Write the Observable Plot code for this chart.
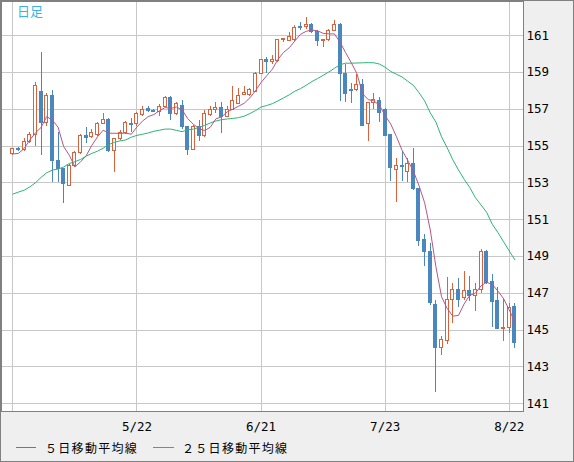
<!DOCTYPE html>
<html>
<head>
<meta charset="utf-8">
<script src="https://cdn.jsdelivr.net/npm/d3@7"></script>
<script src="https://cdn.jsdelivr.net/npm/@observablehq/plot@0.6"></script>
<style>
  html, body { margin: 0; padding: 0; background: #ffffff; }
  #wrap { position: relative; width: 574px; height: 462px; box-sizing: border-box;
          border: 1px solid #808080; background: #efefef; overflow: hidden; }
  #chart svg { display: block; }
  .lg-line { position: absolute; height: 1px; }
  .lg-text { position: absolute; font-family: "Noto Sans CJK JP", sans-serif; font-size: 12px;
             letter-spacing: 1.3px; line-height: 16px; color: #000; white-space: nowrap; }
</style>
</head>
<body>
<div id="wrap">
  <div id="chart"></div>
  <div class="lg-line" style="left:15px;top:446px;width:20px;background:#b5558a"></div>
  <div class="lg-text" style="left:44px;top:439px">５日移動平均線</div>
  <div class="lg-line" style="left:152px;top:446px;width:21px;background:#2db576"></div>
  <div class="lg-text" style="left:181px;top:439px">２５日移動平均線</div>
</div>
<script>
// ---- data (daily candles, index 0 = 4/22 ... 89 = 8/23) ----
const openV = [154.55,154.84,154.76,155.20,155.58,157.92,156.23,157.71,154.17,153.73,
  152.83,153.92,154.60,155.52,155.48,155.60,156.18,156.41,154.75,155.36,
  155.69,156.21,156.18,156.66,156.99,156.92,156.86,157.13,157.59,156.74,
  157.16,156.04,154.78,156.04,155.53,156.67,156.98,157.09,156.58,156.98,
  157.27,157.78,157.78,157.92,158.89,159.65,159.58,159.62,160.74,160.70,
  160.74,161.48,161.45,161.57,161.17,160.70,160.74,161.25,161.57,158.93,
  158.05,158.02,158.33,156.18,157.36,157.42,156.96,155.60,153.70,153.91,
  153.60,154.02,152.65,149.87,149.27,146.39,144.04,144.40,146.64,147.19,
  146.75,147.15,146.86,147.19,149.27,147.60,146.57,145.07,145.12,146.28];
const highV = [154.87,154.93,155.40,155.72,158.44,160.10,157.86,158.00,155.72,153.75,
  154.00,154.68,155.65,155.98,155.90,156.28,156.74,156.50,155.38,155.86,
  156.33,156.50,156.80,157.13,157.13,157.00,157.27,157.71,157.68,157.35,
  157.45,156.06,156.11,156.40,156.95,157.13,157.34,157.38,157.13,158.25,
  158.10,158.21,158.14,159.00,159.70,159.83,159.90,160.80,160.85,161.17,
  161.54,161.72,161.97,161.64,161.25,160.78,161.32,161.83,161.68,159.42,
  158.42,158.87,158.60,157.36,157.87,157.65,157.05,155.64,154.33,154.70,
  154.33,154.88,152.70,150.20,149.69,146.61,144.65,147.88,147.51,147.79,
  148.20,147.91,147.51,149.38,149.35,148.02,147.30,146.70,146.46,146.43];
const lowV = [154.50,154.68,154.71,155.15,154.97,154.46,156.08,153.00,153.00,151.89,
  152.80,153.85,154.55,155.14,155.40,155.52,156.15,154.64,153.55,155.30,
  155.62,155.74,156.05,156.60,156.82,156.80,156.62,157.10,156.37,156.65,
  155.90,154.50,154.74,155.22,155.46,156.60,156.76,155.68,156.53,156.94,
  157.23,157.76,157.71,157.90,158.87,158.93,159.45,159.55,160.60,160.67,
  160.70,161.28,161.32,161.10,160.41,160.34,160.70,161.21,157.42,157.35,
  157.31,157.98,156.05,155.27,156.96,156.27,155.50,153.05,151.91,153.05,
  153.00,152.60,149.54,148.46,146.34,141.63,143.62,144.22,145.38,146.25,
  146.61,146.57,146.03,147.01,147.50,145.12,145.05,144.40,144.83,144.02];
const closeV = [154.82,154.76,155.20,155.58,158.25,156.27,157.71,154.20,153.73,152.92,
  153.92,154.60,155.52,155.45,155.72,156.21,156.39,154.75,155.36,155.72,
  156.27,156.12,156.74,156.95,156.90,156.86,157.13,157.59,156.74,157.28,
  156.04,154.81,156.04,155.57,156.73,156.95,157.09,156.55,156.98,157.42,
  157.74,157.89,158.03,158.90,159.69,159.58,159.65,160.75,160.80,160.92,
  161.43,161.43,161.55,161.17,160.70,160.76,161.25,161.57,158.93,157.84,
  158.00,158.33,156.09,157.33,157.51,156.78,155.55,153.78,153.91,153.84,
  154.02,152.65,149.83,149.24,146.46,144.02,144.49,146.64,147.19,146.64,
  147.12,146.84,147.19,149.27,147.57,146.52,145.07,145.12,146.21,144.29];
const ma5V = [154.57,154.60,154.87,155.33,155.72,156.01,156.60,156.40,156.03,154.97,
  154.50,153.87,154.14,154.48,155.04,155.50,155.86,155.70,155.69,155.69,
  155.70,155.64,156.04,156.36,156.60,156.71,156.92,157.09,157.04,157.12,
  156.96,156.49,156.18,155.95,155.84,156.02,156.48,156.58,156.86,157.00,
  157.16,157.32,157.61,158.00,158.45,158.82,159.17,159.71,160.09,160.34,
  160.71,161.07,161.23,161.30,161.26,161.12,161.09,161.09,160.64,160.07,
  159.52,158.93,157.84,157.52,157.45,157.21,156.65,156.19,155.51,154.77,
  154.22,153.64,152.85,151.92,150.44,148.44,146.81,146.17,145.76,145.80,
  146.42,146.89,147.00,147.41,147.60,147.48,147.12,146.71,146.10,145.44];
const ma25V = [152.39,152.50,152.60,152.78,153.00,153.30,153.55,153.69,153.75,153.86,
  154.05,154.15,154.27,154.45,154.60,154.72,154.88,155.08,155.20,155.28,
  155.33,155.48,155.58,155.64,155.71,155.80,155.86,155.92,155.92,155.85,
  155.78,155.88,155.92,156.00,156.12,156.25,156.36,156.43,156.47,156.50,
  156.54,156.62,156.76,156.92,157.12,157.20,157.30,157.45,157.62,157.78,
  157.98,158.12,158.30,158.50,158.66,158.84,159.02,159.22,159.42,159.50,
  159.50,159.51,159.52,159.53,159.52,159.45,159.28,159.05,158.90,158.75,
  158.52,158.30,157.90,157.45,156.80,156.30,155.50,154.90,154.25,153.70,
  153.20,152.75,152.20,151.80,151.40,150.75,150.30,149.80,149.30,148.82];
const tickIdx = [22, 44, 66, 88];
const tickLabels = ["5/22", "6/21", "7/23", "8/22"];
const gridIdx = [0, 22, 44, 66, 88];
const yTicks = [141,143,145,147,149,151,153,155,157,159,161];
const titleText = "日足";

// ---- build table ----
const rows = closeV.map((c, i) => ({i, o: openV[i], h: highV[i], l: lowV[i], c}));
const up = rows.filter(d => d.c >= d.o);
const down = rows.filter(d => d.c < d.o);
const ma5 = ma5V.map((v, i) => ({i, v}));
const ma25 = ma25V.map((v, i) => ({i, v}));

const UP = "#d9623d", DOWN = "#4a87bf", GRID = "#c8c8c8";
const hw = 1.5 / 5.64; // half body width in index units

const chart = Plot.plot({
  width: 572, height: 436,
  marginLeft: 0, marginRight: 50, marginTop: 0, marginBottom: 26,
  x: {type: "linear", domain: [-2.021, 90.53]},
  y: {domain: [140.58, 162.85]},
  style: {background: "transparent", fontFamily: "DejaVu Sans Mono", fontSize: "12.5px", color: "#000", overflow: "visible"},
  marks: [
    Plot.frame({fill: "white"}),
    Plot.gridY(yTicks, {stroke: GRID, strokeOpacity: 1, shapeRendering: "crispEdges"}),
    Plot.gridX(gridIdx, {stroke: GRID, strokeOpacity: 1, shapeRendering: "crispEdges"}),
    Plot.ruleX(up, {x: "i", y1: "l", y2: "h", stroke: UP, strokeWidth: 1, shapeRendering: "crispEdges"}),
    Plot.ruleX(down, {x: "i", y1: "l", y2: "h", stroke: DOWN, strokeWidth: 1, shapeRendering: "crispEdges"}),
    Plot.rect(up, {x1: d => d.i - hw, x2: d => d.i + hw, y1: "o", y2: "c", fill: "white", stroke: UP, strokeWidth: 1, shapeRendering: "crispEdges"}),
    Plot.rect(down, {x1: d => d.i - hw, x2: d => d.i + hw, y1: "o", y2: "c", fill: DOWN, stroke: DOWN, strokeWidth: 1, shapeRendering: "crispEdges"}),
    Plot.line(ma25, {x: "i", y: "v", stroke: "#2db576", strokeWidth: 1}),
    Plot.line(ma5, {x: "i", y: "v", stroke: "#b5558a", strokeWidth: 1}),
    Plot.axisY(yTicks, {anchor: "right", tickSize: 0, tickPadding: 3, label: null, fill: "#000"}),
    Plot.axisX(tickIdx, {anchor: "bottom", tickSize: 0, tickPadding: 11, label: null, fill: "#000",
      tickFormat: d => tickLabels[tickIdx.indexOf(d)]}),
    Plot.text([titleText], {frameAnchor: "top-left", dx: 15.5, dy: 5, textAnchor: "start", lineAnchor: "top",
      fill: "#38b3e6", fontSize: 13, fontFamily: "Noto Sans CJK JP"}),
    Plot.frame({stroke: "#808080", strokeWidth: 1})
  ]
});
document.getElementById("chart").appendChild(chart);
</script>
</body>
</html>
